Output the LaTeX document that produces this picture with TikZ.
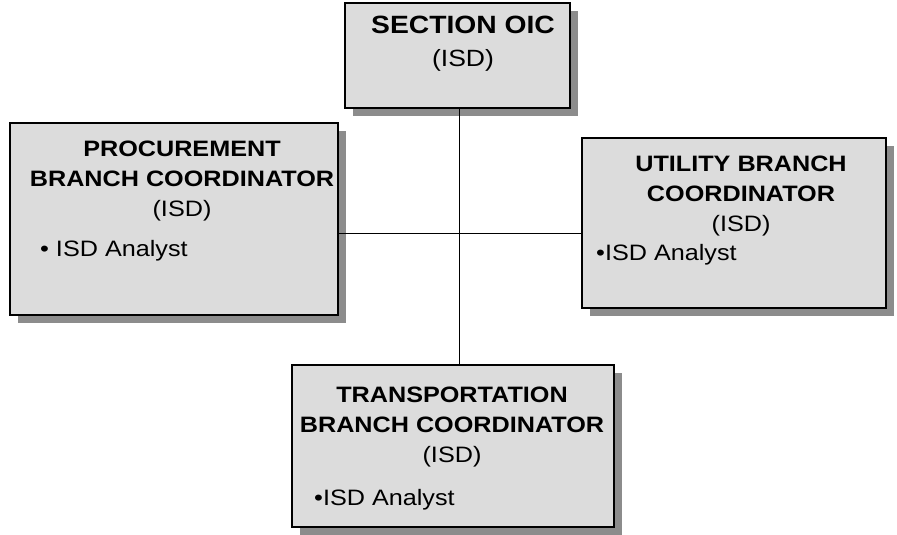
\documentclass[tikz,border=0pt]{standalone}
\usepackage{fontspec}
\setmainfont[FakeStretch=1.13]{Liberation Sans}
\usepackage{tikz}
\usetikzlibrary{positioning,shadows,calc}
\definecolor{orgfill}{RGB}{220,220,220}
\definecolor{orgshadow}{RGB}{140,140,140}

\begin{document}
\begin{tikzpicture}[x=1pt,y=-1pt,
    orgbox/.style={draw=black,line width=2pt,fill=orgfill,inner sep=0pt,
      drop shadow={shadow xshift=8pt,shadow yshift=-8pt,fill=orgshadow,opacity=1}},
    orgtitle/.style={font=\fontsize{22.3}{30}\selectfont,align=center,inner sep=0pt,anchor=north},
    orgitem/.style={font=\fontsize{22.3}{30}\selectfont,inner sep=0pt,anchor=base west},
    orgline/.style={draw=black,line width=0.8pt}]
  \useasboundingbox (0,0) rectangle (897,535);
  % --- boxes ---
  \node[orgbox,minimum width=225,minimum height=105] (oic) at (457.5,55.5) {};
  \node[orgbox,minimum width=328,minimum height=192] (proc) at (174,219) {};
  \node[orgbox,minimum width=304,minimum height=170] (util) at (734,223) {};
  \node[orgbox,minimum width=322,minimum height=162] (trans) at (453,446) {};
  % --- connectors ---
  \coordinate (hub) at (459,233);
  \draw[orgline] (oic.south -| hub) -- (trans.north -| hub);
  \draw[orgline] (proc.east |- hub) -- (util.west |- hub);
  % --- titles ---
  \node[orgtitle,font=\fontsize{25}{33}\selectfont] (oicT) at (463,16)
    {\textbf{SECTION OIC}\\\fontsize{23.5}{33}\selectfont(ISD)};
  \node[orgtitle] (procT) at (182,141) {\textbf{PROCUREMENT}\\\textbf{BRANCH COORDINATOR}\\(ISD)};
  \node[orgtitle] (utilT) at (741,156) {\textbf{UTILITY BRANCH}\\\textbf{COORDINATOR}\\(ISD)};
  \node[orgtitle] (transT) at (452,387) {\textbf{TRANSPORTATION}\\\textbf{BRANCH COORDINATOR}\\(ISD)};
  % --- staff ---
  \node[orgitem] (procS) at (40,256) {• ISD Analyst};
  \node[orgitem] (utilS) at (596,260) {•ISD Analyst};
  \node[orgitem] (transS) at (314,505) {•ISD Analyst};
\end{tikzpicture}
\end{document}
